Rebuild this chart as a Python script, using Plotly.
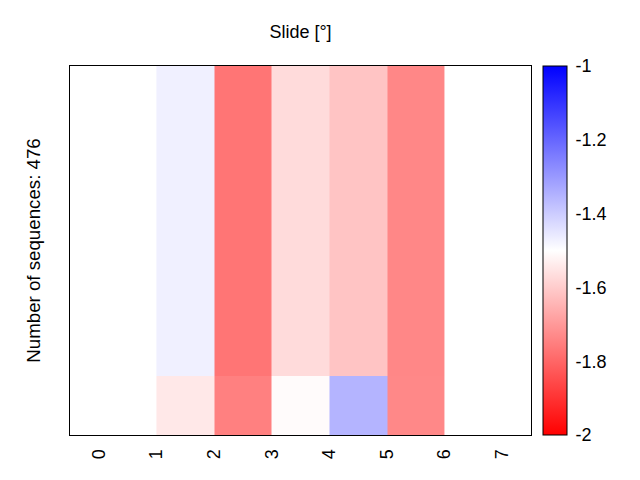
import plotly.graph_objects as go

# bin edges
x_edges = [1, 2, 3, 4, 5, 6]
y_edges = [0, 1, 6.25]
# values (rows bottom->top)
z_bottom = [-1.545, -1.75, -1.508, -1.353, -1.733]
z_top = [-1.47, -1.77, -1.57, -1.615, -1.735]
x_ticks = [0, 1, 2, 3, 4, 5, 6, 7]
cbar_ticks = [-1, -1.2, -1.4, -1.6, -1.8, -2]

colorscale = [[0, "rgb(255,0,0)"], [0.5, "rgb(255,255,255)"], [1, "rgb(0,0,255)"]]

fig = go.Figure(go.Heatmap(
    x=x_edges, y=y_edges, z=[z_bottom, z_top],
    zmin=-2, zmax=-1, colorscale=colorscale,
    colorbar=dict(x=1.0, xanchor="left", xpad=12, thickness=24, len=1, y=0.5, yanchor="middle",
                  ypad=0, outlinewidth=1, outlinecolor="black",
                  tickvals=cbar_ticks, ticktext=[str(v) for v in cbar_ticks],
                  ticks="outside", ticklen=5, tickcolor="rgba(0,0,0,0)",
                  tickfont=dict(size=18, color="black")),
))

fig.update_layout(
    width=640, height=480,
    margin=dict(l=70, r=109, t=66, b=45),
    paper_bgcolor="white", plot_bgcolor="white",
    font=dict(family="Liberation Sans, Arial", size=18, color="black"),
    title=dict(text="Slide [°]", x=0.5, xref="paper", y=1 - 32 / 480, yref="container",
               xanchor="center", yanchor="middle", font=dict(size=18)),
)
fig.update_xaxes(range=[-0.5, 7.5], tickvals=x_ticks, ticktext=[str(v) for v in x_ticks],
                 tickangle=-90, showline=True, mirror=True, linecolor="black", linewidth=1,
                 showgrid=False, zeroline=False, ticks="outside", ticklen=6,
                 tickcolor="rgba(0,0,0,0)", automargin=False)
fig.update_yaxes(range=[0, 6.25], showticklabels=False, showline=True, mirror=True,
                 linecolor="black", linewidth=1, showgrid=False, zeroline=False, ticks="",
                 title=dict(text="Number of sequences: 476", standoff=23, font=dict(size=18.7)),
                 automargin=False)

fig.write_html("out.html")
